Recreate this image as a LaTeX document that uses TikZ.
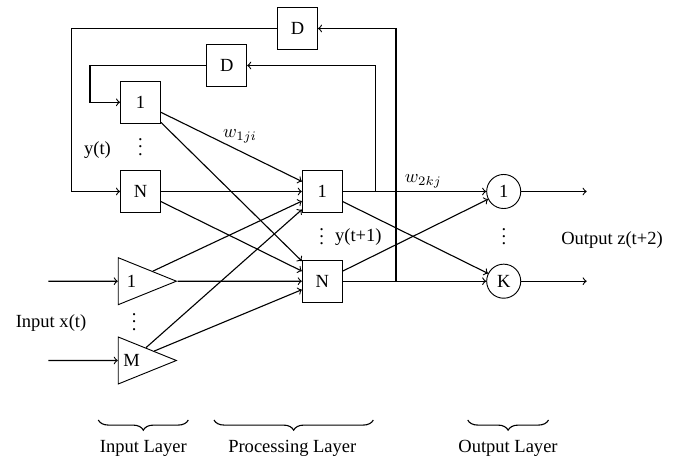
\documentclass[tikz,border=0pt]{standalone}
\usepackage{fontspec}
\setmainfont{Liberation Serif}
\usetikzlibrary{shapes.geometric,decorations.pathreplacing}
\newcommand\mydots{\vbox{\baselineskip4pt\lineskiplimit0pt\hbox{.}\hbox{.}\hbox{.}}}
\begin{document}
\begin{tikzpicture}[x=0.54pt,y=-0.54pt,
  box/.style={draw,line width=0.5pt,minimum width=21.6pt,minimum height=22.7pt,inner sep=0pt},
  tri/.style={draw,line width=0.5pt,isosceles triangle,isosceles triangle apex angle=44,inner xsep=4.65pt,inner ysep=3.5pt,text height=6.8pt,text depth=0pt},
  neuron/.style={draw,line width=0.5pt,circle,minimum size=18.4pt,inner sep=0pt},
  conn/.style={line width=0.6pt,->},
  lbl/.style={inner sep=0pt},
  brc/.style={line width=0.6pt,decorate,decoration={brace,mirror,amplitude=5.5pt}}
  ]
\useasboundingbox (0,0) rectangle (676,462);
% nodes
\node[box] (d1) at (297.5,28.5) {D};
\node[box] (d2) at (226.7,65.5) {D};
\node[box] (i1) at (140.5,102.3) {1};
\node[box] (iN) at (140.5,191.5) {N};
\node[box] (h1) at (322.3,191.5) {1};
\node[box] (hN) at (322.3,281.2) {N};
\node[tri] (x1) at (131.5,281.2) {\makebox[5pt]{1}};
\node[tri] (xM) at (131.5,360.5) {\makebox[5pt]{M}};
\node[neuron] (o1) at (503.7,191.5) {1};
\node[neuron] (oK) at (503.7,281.2) {K};
% coordinates
\coordinate (c1) at (375.7,65.5);
\coordinate (c2) at (396,28.5);
\coordinate (c3) at (90,102.3);
\coordinate (c4) at (71.7,191.5);
\coordinate (in1) at (48.3,281.2);
\coordinate (inM) at (48.3,360.5);
\coordinate (z1) at (586.7,191.5);
\coordinate (zK) at (586.7,281.2);
% labels
\node[lbl] (yt) at (97.5,150) {y(t)};
\node[lbl] (dotsi) at (140.5,147) {\mydots};
\node[lbl] (dotsx) at (134.3,322) {\mydots};
\node[lbl] (dotsh) at (321.7,236.7) {\mydots};
\node[lbl] (dotso) at (504,236.7) {\mydots};
\node[lbl] (yt1) at (358.3,236.7) {y(t+1)};
\node[lbl] (w1) at (240,136) {$w_{1ji}$};
\node[lbl] (w2) at (423.3,181) {$w_{2kj}$};
\node[lbl] (inp) at (51,323) {Input x(t)};
\node[lbl] (outp) at (612,240) {Output z(t+2)};
% connectors
\draw[conn] (i1) -- (h1);
\draw[conn] (i1) -- (hN);
\draw[conn] (iN) -- (h1);
\draw[conn] (iN) -- (hN);
\draw[conn] (x1) -- (h1);
\draw[conn] (x1) -- (hN);
\draw[conn] (xM) -- (h1);
\draw[conn] (xM) -- (hN);
\draw[conn] (h1) -- (o1);
\draw[conn] (h1) -- (oK);
\draw[conn] (hN) -- (o1);
\draw[conn] (hN) -- (oK);
\draw[conn] (o1) -- (z1);
\draw[conn] (oK) -- (zK);
\draw[conn] (in1) -- (x1);
\draw[conn] (inM) -- (xM);
\draw[conn] (h1.east) -| (c1) -- (d2);
\draw[conn] (hN.east) -| (c2) -- (d1);
\draw[conn] (d2) -| (c3) -- (i1);
\draw[conn] (d1) -| (c4) -- (iN);
% braces
\coordinate (b1a) at (98.3,420);
\coordinate (b1b) at (188.3,420);
\coordinate (b2a) at (214,420);
\coordinate (b2b) at (373.3,420);
\coordinate (b3a) at (467.7,420);
\coordinate (b3b) at (548.5,420);
\draw[brc] (b1a) -- (b1b);
\draw[brc] (b2a) -- (b2b);
\draw[brc] (b3a) -- (b3b);
\node[lbl] (l1) at (143.3,448) {Input Layer};
\node[lbl] (l2) at (292.3,448) {Processing Layer};
\node[lbl] (l3) at (508,448) {Output Layer};
\end{tikzpicture}
\end{document}
